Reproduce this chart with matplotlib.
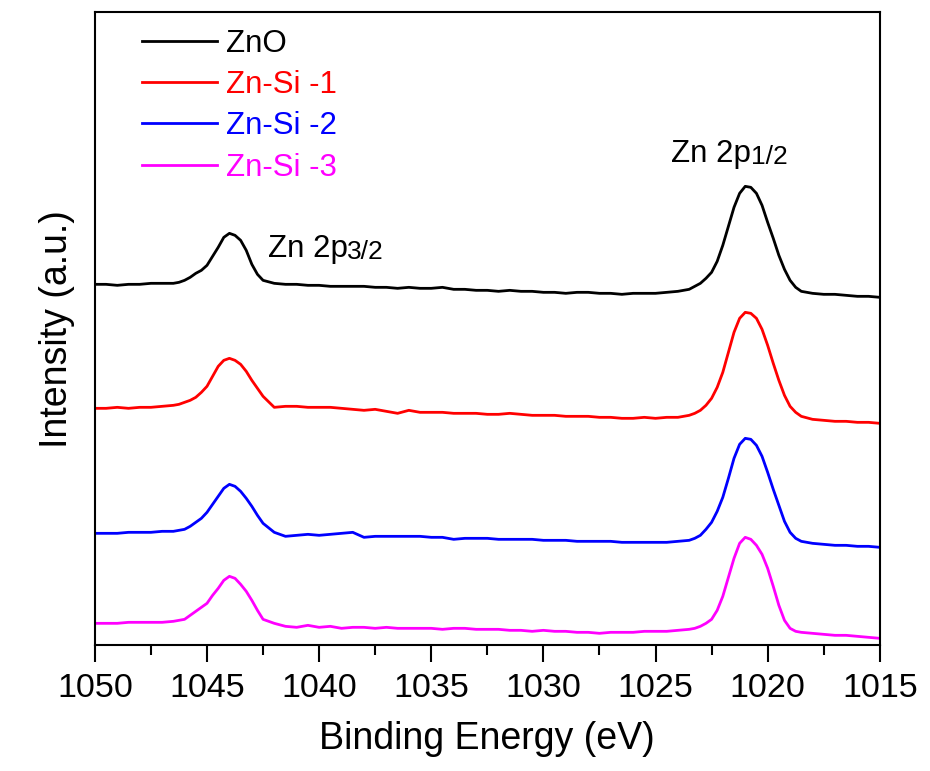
import numpy as np
from matplotlib import pyplot as plt

plt.rcParams['font.family'] = ['Liberation Sans', 'DejaVu Sans']

# 结合能 (eV), 峰附近取 0.25 步长, 其余 0.5
energy = np.concatenate([np.arange(1050, 1046.4, -0.5),
                         np.arange(1046.25, 1042.4, -0.25),
                         np.arange(1042, 1023.4, -0.5),
                         np.arange(1023.25, 1018.4, -0.25),
                         np.arange(1018, 1014.9, -0.5)])

# 各样品强度 (已叠加偏移, a.u.)
zno = [362, 362, 361, 362, 362, 363, 363, 363,
       364, 366, 369, 373, 376, 381, 390, 399, 409, 413, 411, 406, 396, 382, 372, 366,
       363, 362, 362, 361, 361, 360, 360, 360, 360, 359, 359, 358, 359, 358,
       358, 359, 357, 357, 356, 356, 355, 356, 355, 355, 354, 354, 353, 354,
       354, 353, 353, 352, 353, 353, 353, 354, 355, 357,
       360, 363, 368, 374, 385, 401, 420, 439, 453, 460,
       459, 453, 441, 424, 408, 391, 377, 366, 359, 355,
       353, 352, 352, 351, 350, 350, 349]
zn_si_1 = [238, 238, 239, 238, 239, 239, 240, 241,
           242, 244, 246, 249, 254, 260, 270, 280, 286, 288, 286, 282, 275, 266, 258, 250,
           239, 240, 240, 239, 239, 239, 238, 237, 236, 237, 235, 233, 236, 234,
           234, 234, 233, 233, 233, 232, 232, 233, 232, 231, 231, 231, 230, 230,
           230, 229, 229, 228, 228, 229, 228, 229, 229, 231,
           233, 236, 241, 248, 259, 274, 294, 314, 328, 334,
           333, 328, 317, 301, 283, 266, 251, 240, 234, 230,
           227, 226, 225, 225, 224, 224, 223]
zn_si_2 = [113, 113, 113, 114, 114, 114, 115, 115,
           116, 117, 120, 124, 128, 134, 142, 150, 158, 162, 160, 155, 148, 140, 131, 123,
           114, 110, 111, 112, 111, 112, 113, 114, 109, 110, 110, 110, 110, 110,
           109, 109, 107, 108, 108, 108, 107, 107, 107, 107, 106, 106, 106, 105,
           105, 105, 105, 104, 104, 104, 104, 104, 105, 106,
           108, 111, 117, 124, 135, 149, 168, 188, 202, 208,
           207, 201, 190, 174, 157, 141, 125, 114, 108, 105,
           103, 102, 101, 101, 100, 100, 99]
zn_si_3 = [23, 23, 23, 24, 24, 24, 24, 25,
           26, 27, 31, 35, 39, 43, 51, 58, 66, 70, 68, 62, 55, 46, 36, 27,
           23, 20, 19, 21, 19, 20, 18, 19, 19, 18, 19, 18, 18, 18,
           18, 17, 18, 18, 17, 17, 17, 16, 16, 15, 16, 15, 15, 14,
           14, 13, 14, 14, 14, 15, 15, 15, 16, 17,
           18, 20, 23, 27, 36, 50, 69, 88, 103, 109,
           107, 101, 92, 78, 60, 41, 26, 18, 15, 14,
           13, 12, 11, 11, 10, 9, 8]

labels = ['ZnO', 'Zn-Si -1', 'Zn-Si -2', 'Zn-Si -3']
colors = ['black', 'red', 'blue', 'magenta']

fig = plt.figure(figsize=(9.3, 7.71), dpi=100)
ax = fig.add_axes([0.102, 0.163, 0.844, 0.821])

for y, lab, c in zip([zno, zn_si_1, zn_si_2, zn_si_3], labels, colors):
    ax.plot(energy, y, color=c, lw=2, label=lab)

ax.set_xlim(1050, 1015)
ax.set_ylim(1, 634)
ax.set_xticks(np.arange(1050, 1014, -5))
ax.set_xticks(np.arange(1047.5, 1015, -5), minor=True)
ax.set_yticks([])
ax.tick_params(axis='x', which='major', length=12, width=1.5, labelsize=24.5, pad=8)
ax.tick_params(axis='x', which='minor', length=7, width=1.5)
for s in ax.spines.values():
    s.set_linewidth(1.5)

ax.set_xlabel('Binding Energy (eV)', fontsize=27, labelpad=12)
ax.set_ylabel('Intensity (a.u.)', fontsize=27, labelpad=14)

# 峰标注
t1 = ax.text(1042.3, 389, 'Zn 2p', fontsize=22.5, va='baseline', ha='left')
ax.annotate('3/2', xy=(1, 0), xycoords=t1, fontsize=19, va='bottom', ha='left')
t2 = ax.text(1024.3, 484, 'Zn 2p', fontsize=22.5, va='baseline', ha='left')
ax.annotate('1/2', xy=(1, 0), xycoords=t2, fontsize=19, va='bottom', ha='left')

ax.legend(loc='upper left', bbox_to_anchor=(0.06, 0.974), frameon=False,
          fontsize=22.5, labelcolor='linecolor', handlelength=2.4,
          handletextpad=0.3, labelspacing=0.36, borderpad=0, borderaxespad=0)

plt.savefig('out.png', dpi=100)
